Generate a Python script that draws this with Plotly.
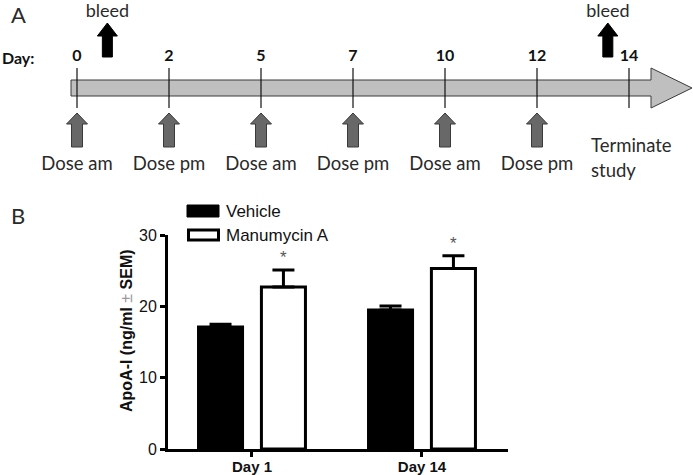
import plotly.graph_objects as go

W, H = 693, 475

# ---- Panel A: study timeline ------------------------------------------------
DAY_LABELS = ["0", "2", "5", "7", "10", "12", "14"]
DOSE_LABELS = ["Dose am", "Dose pm", "Dose am", "Dose pm", "Dose am", "Dose pm"]
BLEED_POS = [0.33, 5.77]          # bleeds fall just after day 0 / before day 14

# ---- Panel B: ApoA-I levels -------------------------------------------------
GROUPS = ["Day 1", "Day 14"]
VEHICLE = [17.1, 19.5]
VEHICLE_SEM = [0.4, 0.55]
MANUMYCIN = [22.7, 25.3]
MANUMYCIN_SEM = [2.4, 1.8]

BARGAP = 0.26
BARGROUPGAP = 0.3

TL_FONT = "Lato, Calibri, sans-serif"
AR_FONT = "Arial, Liberation Sans, sans-serif"
TL_SIZE = 18.5


def px(x):   # pixel -> paper x
    return x / W


def py(y):   # pixel -> paper y
    return 1 - y / H


def up_arrow(xc, y_tip, y_neck, y_base, head_hw, shaft_hw):
    xs = [xc, xc + head_hw, xc + shaft_hw, xc + shaft_hw,
          xc - shaft_hw, xc - shaft_hw, xc - head_hw, xc]
    ys = [y_tip, y_neck, y_neck, y_base, y_base, y_neck, y_neck, y_tip]
    return xs, ys


def note(x, y, text, size, color="#2a2a2a", family=TL_FONT, xanchor="left", **kw):
    return dict(x=px(x), y=py(y), xref="paper", yref="paper", text=text,
                xanchor=xanchor, yanchor="middle", showarrow=False,
                font=dict(family=family, size=size, color=color), **kw)


fig = go.Figure()

# timeline lives on x2/y2: x in "tick index", y in layout pixels (top-down)
UNIT = 92.0
X0 = 77.0
n = len(DAY_LABELS)
idx = list(range(n))

body_l = (71 - X0) / UNIT
head_l = (651 - X0) / UNIT
tip = (692 - X0) / UNIT
fig.add_trace(go.Scatter(
    x=[body_l, head_l, head_l, tip, head_l, head_l, body_l, body_l],
    y=[80, 80, 68, 88, 108, 96, 96, 80],
    xaxis="x2", yaxis="y2", mode="lines", fill="toself",
    fillcolor="#bfbfbf", line=dict(color="#3a3a3a", width=1),
    hoverinfo="skip", showlegend=False,
))

# day tick marks
tx, ty = [], []
for i in idx:
    tx += [i, i, None]
    ty += [68, 108, None]
fig.add_trace(go.Scatter(
    x=tx, y=ty, xaxis="x2", yaxis="y2", mode="lines",
    line=dict(color="#111111", width=1.2), hoverinfo="skip", showlegend=False,
))

# day numbers
fig.add_trace(go.Scatter(
    x=idx, y=[57] * n, xaxis="x2", yaxis="y2", mode="text",
    text=[f"<b>{d}</b>" for d in DAY_LABELS],
    textfont=dict(family=TL_FONT, size=16, color="#111111"),
    hoverinfo="skip", showlegend=False,
))

# dose arrows + labels
for i, lab in enumerate(DOSE_LABELS):
    xs, ys = up_arrow(i, 113, 124, 147, 10.5 / UNIT, 5.5 / UNIT)
    fig.add_trace(go.Scatter(
        x=xs, y=ys, xaxis="x2", yaxis="y2", mode="lines", fill="toself",
        fillcolor="#686868", line=dict(color="#3a3a3a", width=1),
        hoverinfo="skip", showlegend=False,
    ))
fig.add_trace(go.Scatter(
    x=idx[:len(DOSE_LABELS)], y=[165] * len(DOSE_LABELS),
    xaxis="x2", yaxis="y2", mode="text", text=DOSE_LABELS,
    textfont=dict(family=TL_FONT, size=TL_SIZE, color="#2a2a2a"),
    hoverinfo="skip", showlegend=False,
))

# bleed arrows
for b in BLEED_POS:
    xs, ys = up_arrow(b, 23, 36, 57, 10 / UNIT, 5 / UNIT)
    fig.add_trace(go.Scatter(
        x=xs, y=ys, xaxis="x2", yaxis="y2", mode="lines", fill="toself",
        fillcolor="#000000", line=dict(color="#000000", width=1),
        hoverinfo="skip", showlegend=False,
    ))
fig.add_trace(go.Scatter(
    x=BLEED_POS, y=[12.5, 12.5], xaxis="x2", yaxis="y2", mode="text",
    text=["bleed", "bleed"],
    textfont=dict(family=TL_FONT, size=18, color="#2a2a2a"),
    hoverinfo="skip", showlegend=False,
))

# ---- Panel B bars -----------------------------------------------------------
fig.add_trace(go.Bar(
    x=GROUPS, y=VEHICLE, name="Vehicle",
    marker=dict(color="#000000", line=dict(color="#000000", width=3)),
    error_y=dict(type="data", array=VEHICLE_SEM, arrayminus=[0, 0],
                 symmetric=False, color="#000000", thickness=3, width=11),
    showlegend=False,
))
fig.add_trace(go.Bar(
    x=GROUPS, y=MANUMYCIN, name="Manumycin A",
    marker=dict(color="#ffffff", line=dict(color="#000000", width=3)),
    error_y=dict(type="data", array=MANUMYCIN_SEM, arrayminus=[0, 0],
                 symmetric=False, color="#000000", thickness=3, width=11),
    showlegend=False,
))

annotations = []
# significance stars above Manumycin bars
slot = (1 - BARGAP) / 2
for i, (m, s) in enumerate(zip(MANUMYCIN, MANUMYCIN_SEM)):
    annotations.append(dict(
        x=i + slot / 2, y=m + s, xref="x", yref="y", text="*",
        showarrow=False, xanchor="center", yanchor="bottom", yshift=1,
        font=dict(family=AR_FONT, size=17, color="#555555"),
    ))

# y-axis title
annotations.append(note(
    126, 331,
    "<b>ApoA-I (ng/ml </b><span style='color:#9a9a9a'>±</span><b> SEM)</b>",
    16, color="#111111", family=AR_FONT, xanchor="center", textangle=-90,
))

# legend
annotations += [
    note(224, 211, "Vehicle", 17, color="#111111", family=AR_FONT),
    note(224, 235, "Manumycin A", 17, color="#111111", family=AR_FONT),
]

# free text of panel A and panel letters
annotations += [
    note(0, 57, "<b>Day:</b>", 16, color="#111111"),
    note(589, 145, "Terminate", TL_SIZE),
    note(589, 170, "study", TL_SIZE),
    note(9, 14, "A", 22),
    note(9, 215, "B", 22),
]

shapes = [
    dict(type="rect", xref="paper", yref="paper",
         x0=px(187), x1=px(219), y0=py(217), y1=py(205),
         fillcolor="#000000", line=dict(color="#000000", width=1)),
    dict(type="rect", xref="paper", yref="paper",
         x0=px(188.5), x1=px(218.5), y0=py(240), y1=py(230),
         fillcolor="#ffffff", line=dict(color="#000000", width=3)),
]

fig.update_layout(
    width=W, height=H,
    margin=dict(l=0, r=0, t=0, b=0, autoexpand=False),
    paper_bgcolor="#ffffff",
    plot_bgcolor="rgba(0,0,0,0)",
    barmode="group", bargap=BARGAP, bargroupgap=BARGROUPGAP,
    showlegend=False,
    annotations=annotations,
    shapes=shapes,
    xaxis=dict(
        domain=[px(168), px(508)], range=[-0.494, 1.506],
        showline=True, linecolor="#000000", linewidth=3,
        ticks="outside", ticklen=5, tickwidth=3, tickcolor="#000000",
        showgrid=False, zeroline=False, automargin=False,
        tickfont=dict(family=AR_FONT, size=15, color="#111111"),
        tickprefix="<b>", ticksuffix="</b>",
        ticklabelstandoff=-3,
        anchor="y",
    ),
    yaxis=dict(
        domain=[py(449), py(235)], range=[0, 30],
        tickvals=[0, 10, 20, 30],
        showline=True, linecolor="#000000", linewidth=3,
        ticks="outside", ticklen=5, tickwidth=3, tickcolor="#000000",
        showgrid=False, zeroline=False, automargin=False,
        tickfont=dict(family=AR_FONT, size=16, color="#111111"),
        tickprefix="<b>", ticksuffix="</b>",
        anchor="x",
    ),
    xaxis2=dict(domain=[0, 1], range=[-X0 / UNIT, (W - X0) / UNIT],
                visible=False, anchor="y2", fixedrange=True),
    yaxis2=dict(domain=[0, 1], range=[H, 0],
                visible=False, anchor="x2", fixedrange=True),
)

# page body has a default 8px margin; drop it so the figure fills the window
fig.write_html("out.html", config={"displayModeBar": False},
               post_script="document.body.style.margin='0';")
